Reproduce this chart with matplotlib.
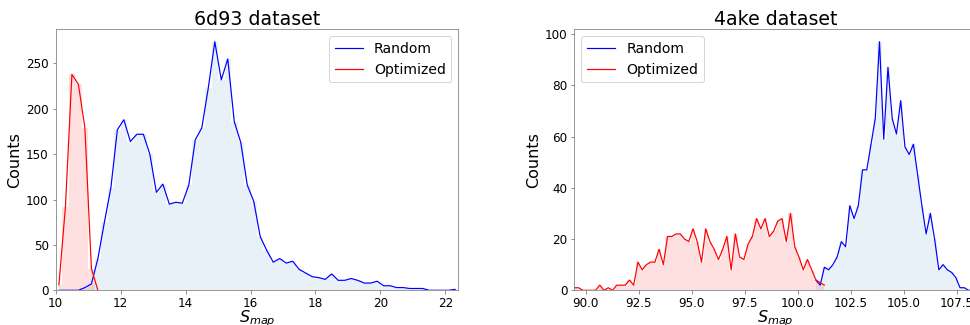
import numpy as np
import matplotlib
matplotlib.use("Agg")
import matplotlib.pyplot as plt

# histogram counts per S_map bin (bin centres, width 0.2)
bin_width = 0.2

# 6d93
s6_start = 10.1
s6_random = [0, 0, 0, 0, 3, 7, 35, 75, 113, 177,
             188, 164, 172, 172, 150, 108, 117, 95, 97, 96,
             116, 166, 179, 223, 274, 232, 255, 186, 163, 116,
             98, 59, 44, 31, 35, 30, 32, 23, 19, 15,
             14, 12, 18, 11, 11, 13, 11, 8, 8, 10,
             5, 5, 3, 3, 2, 2, 2, 0, 0, 0,
             0, 1]
s6_optimized = [6, 92, 238, 227, 179, 24, 0]

# 4ake
s4_start = 89.465
s4_random_first = 57   # index of first bin with random counts
s4_random = [4, 2, 9, 8, 10, 13, 19, 17, 33, 28,
             33, 47, 47, 57, 67, 97, 59, 87, 67, 61,
             74, 56, 53, 57, 45, 33, 22, 30, 20, 8,
             10, 8, 7, 5, 1, 1, 0, 0, 0]
s4_optimized = [1, 1, 0, 0, 0, 0, 2, 0, 1, 0,
                2, 2, 2, 4, 2, 11, 8, 10, 11, 11,
                16, 10, 21, 21, 22, 22, 20, 19, 24, 19,
                11, 24, 19, 16, 12, 16, 21, 8, 22, 13,
                12, 18, 21, 28, 24, 28, 21, 23, 27, 28,
                19, 30, 17, 13, 8, 12, 8, 4, 3, 2]


def centres(start, n, offset=0):
    return start + bin_width * (offset + np.arange(n))


def draw(ax, x_rand, y_rand, x_opt, y_opt, title, xlim, legend_loc):
    ax.plot(x_rand, y_rand, color="blue", lw=1.2, label="Random")
    ax.fill_between(x_rand, y_rand, step="mid", color="C0", alpha=0.1, lw=0)
    ax.plot(x_opt, y_opt, color="red", lw=1.2, label="Optimized")
    ax.fill_between(x_opt, y_opt, step="mid", color="red", alpha=0.12, lw=0)
    ax.set_xlim(*xlim)
    ax.set_ylim(bottom=0)
    ax.set_title(title, fontsize=19, pad=4)
    ax.set_ylabel("Counts", fontsize=16)
    ax.set_xlabel("$S_{map}$", fontsize=16, labelpad=-2)
    ax.tick_params(labelsize=12, color="0.45")
    for sp in ax.spines.values():
        sp.set_color("0.5")
    ax.legend(loc=legend_loc, fontsize=14)


dpi = 72
fig = plt.figure(figsize=(970 / dpi, 325 / dpi), dpi=dpi)
ax1 = fig.add_axes([0.0574, 0.1068, 0.4151, 0.8031])
ax2 = fig.add_axes([0.5921, 0.1068, 0.4151, 0.8031])

draw(ax1,
     centres(s6_start, len(s6_random)), s6_random,
     centres(s6_start, len(s6_optimized)), s6_optimized,
     "6d93 dataset", (10.0, 22.4), "upper right")
ax1.set_xticks(np.arange(10, 23, 2))

draw(ax2,
     centres(s4_start, len(s4_random), s4_random_first), s4_random,
     centres(s4_start, len(s4_optimized)), s4_optimized,
     "4ake dataset", (s4_start, s4_start + bin_width * (s4_random_first + len(s4_random) - 1)),
     "upper left")
ax2.set_xticks(np.arange(90, 108, 2.5))

fig.savefig("out.png", dpi=dpi)
